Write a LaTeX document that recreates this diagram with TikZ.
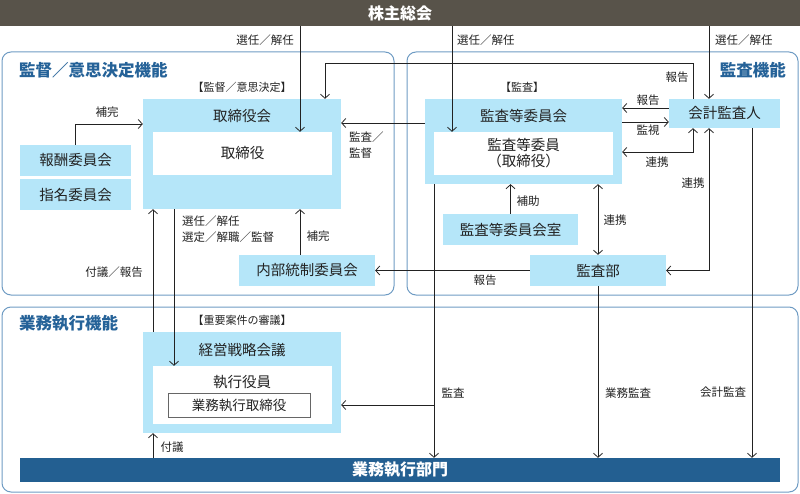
\documentclass[tikz,border=0pt]{standalone}
\usepackage{fontspec}
\setmainfont{Noto Sans CJK JP}
\usetikzlibrary{arrows.meta}
\definecolor{barbrown}{RGB}{88,83,74}
\definecolor{boxblue}{RGB}{181,230,249}
\definecolor{panelline}{RGB}{110,155,195}
\definecolor{titleblue}{RGB}{37,98,152}
\definecolor{opsblue}{RGB}{35,95,145}
\definecolor{ink}{RGB}{34,34,34}
\begin{document}
\begin{tikzpicture}[x=1pt,y=-1pt,
    box/.style={fill=boxblue,inner sep=0pt,font=\fontsize{14.5}{16}\selectfont,text=ink},
    wbox/.style={fill=white,inner sep=0pt,font=\fontsize{14.5}{16}\selectfont,text=ink},
    lbl/.style={inner sep=0pt,font=\fontsize{11.5}{16}\selectfont,text=ink},
    brk/.style={inner sep=0pt,font=\fontsize{11}{12}\selectfont,text=ink},
    ttl/.style={inner sep=0pt,font=\bfseries\fontsize{16.5}{18}\selectfont,text=titleblue},
    panel/.style={draw=panelline,line width=1pt,rounded corners=9pt},
    arr/.style={draw=ink,line width=0.8pt,-{Straight Barb[length=4pt,width=9pt]}},
    biarr/.style={draw=ink,line width=0.8pt,{Straight Barb[length=4pt,width=9pt]}-{Straight Barb[length=4pt,width=9pt]}},
    line/.style={draw=ink,line width=0.8pt}]
    \useasboundingbox (0,0) rectangle (800,494);

    \draw[panel] (2,52) rectangle (394,295);
    \draw[panel] (407,52) rectangle (798,295);
    \draw[panel] (2,307) rectangle (798,492);
    \node[ttl,anchor=west] (supt) at (19,70) {監督／意思決定機能};
    \node[ttl,anchor=east] (audt) at (786,70) {監査機能};
    \node[ttl,anchor=west] (opst) at (19,323) {業務執行機能};

    \node[fill=barbrown,minimum width=800,minimum height=26,inner sep=0pt,text=white,font=\bfseries\fontsize{16}{18}\selectfont] (gm) at (400,13) {株主総会};
    \node[fill=opsblue,minimum width=760,minimum height=24,inner sep=0pt,text=white,font=\bfseries\fontsize{16}{18}\selectfont] (ops) at (400,470) {業務執行部門};

    \node[box,minimum width=198,minimum height=110] (bod) at (242,154) {};
    \node[box,fill=none] (bodt) at (242,116) {取締役会};
    \node[wbox,minimum width=179,minimum height=43] (dir) at (242.5,153.5) {取締役};
    \node[box,minimum width=111,minimum height=31] (comp) at (75.5,160.5) {報酬委員会};
    \node[box,minimum width=111,minimum height=31] (nom) at (75.5,194.5) {指名委員会};
    \node[box,minimum width=136,minimum height=31] (icc) at (307,270.5) {内部統制委員会};

    \node[box,minimum width=197,minimum height=85] (ac) at (523.5,141.5) {};
    \node[box,fill=none] (act) at (523.5,116) {監査等委員会};
    \node[wbox,minimum width=179,minimum height=43,align=center] (acm) at (523.5,153.5) {監査等委員\\（取締役）};
    \node[box,minimum width=111,minimum height=29] (ea) at (724.5,113.5) {会計監査人};
    \node[box,minimum width=135,minimum height=31] (acoff) at (510.5,229.5) {監査等委員会室};
    \node[box,minimum width=136,minimum height=31] (iad) at (598,270.5) {監査部};

    \node[box,minimum width=198,minimum height=101] (msm) at (242,382.5) {};
    \node[box,fill=none] (msmt) at (242,350) {経営戦略会議};
    \node[wbox,minimum width=179,minimum height=58] (exe) at (242.5,395) {};
    \node[box,fill=none] (exet) at (242,382) {執行役員};
    \node[wbox,draw=black!60,line width=0.8pt,minimum width=142,minimum height=24,font=\fontsize{13.5}{15}\selectfont] (edir) at (239,405) {業務執行取締役};

    \node[brk] (bodl) at (242,87) {【監督／意思決定】};
    \node[brk] (acl) at (522,87) {【監査】};
    \node[brk] (msml) at (242,320) {【重要案件の審議】};

    \draw[arr] ([xshift=-100pt]gm.south) -- ([xshift=-100pt]gm.south |- dir.north);
    \draw[arr] ([xshift=52pt]gm.south) -- ([xshift=52pt]gm.south |- acm.north);
    \draw[arr] ([xshift=309pt]gm.south) -- ([xshift=309pt]gm.south |- ea.north);
    \node[lbl,anchor=east] at (294,40) {選任／解任};
    \node[lbl,anchor=west] at (457,40) {選任／解任};
    \node[lbl,anchor=west] at (715,40) {選任／解任};

    \draw[arr] (comp.north) |- ([yshift=30pt]bod.west);
    \node[lbl] at (107,112) {補完};
    \draw[arr] ([yshift=18.5pt]ac.west) -- ([yshift=18.5pt]ac.west -| bod.east);
    \node[lbl,anchor=west,align=left] at (349,145) {監査／\\監督};
    \draw[arr] ([xshift=-31.5pt]ea.north) -- ++(0,-35) -| ([xshift=83pt]bod.north);
    \node[lbl] at (677,77) {報告};

    \draw[arr] ([yshift=5.5pt]ea.west) -- ([yshift=5.5pt]ea.west -| ac.east);
    \node[lbl] at (648,100) {報告};
    \draw[arr] ([yshift=-8.5pt]ea.west -| ac.east) -- ([yshift=-8.5pt]ea.west);
    \node[lbl] at (648,130) {監視};
    \draw[biarr] ([yshift=-10.5pt]ac.east) -| ([xshift=-31.5pt]ea.south);
    \node[lbl] at (657,162) {連携};
    \draw[biarr] ([xshift=-15.5pt]ea.south) |- (iad.east);
    \node[lbl] at (693,183) {連携};
    \draw[arr] ([xshift=27.5pt]ea.south) -- ([xshift=27.5pt]ea.south |- ops.north);
    \node[lbl] at (723,392) {会計監査};

    \draw[arr] (acoff.north) -- (acoff.north |- ac.south);
    \node[lbl] at (528,201) {補助};
    \draw[biarr] (iad.north |- ac.south) -- (iad.north);
    \node[lbl] at (615,220) {連携};
    \draw[arr] (iad.west) -- (icc.east);
    \node[lbl] at (485,280) {報告};
    \draw[arr] (iad.south) -- (iad.south |- ops.north);
    \node[lbl] at (628,393) {業務監査};

    \coordinate (auditx) at ([xshift=-89.5pt]ac.south);
    \draw[arr] (auditx) -- (auditx |- ops.north);
    \draw[arr] (auditx |- edir.east) -- (edir.east -| msm.east);
    \node[lbl] at (453,393) {監査};

    \draw[arr] ([xshift=-7pt]icc.north) -- ([xshift=-7pt]icc.north |- bod.south);
    \node[lbl] at (318,236) {補完};
    \draw[arr] ([xshift=-89pt]msm.north) -- ([xshift=-89pt]msm.north |- bod.south);
    \node[lbl] at (114,272) {付議／報告};
    \draw[arr] ([xshift=-68pt]bod.south) -- ([xshift=-68pt]bod.south |- exe.north);
    \node[lbl,anchor=west,align=left] at (182,229) {選任／解任\\選定／解職／監督};
    \draw[arr] ([xshift=-89pt]msm.south |- ops.north) -- ([xshift=-89pt]msm.south);
    \node[lbl] at (172,447) {付議};
\end{tikzpicture}
\end{document}
